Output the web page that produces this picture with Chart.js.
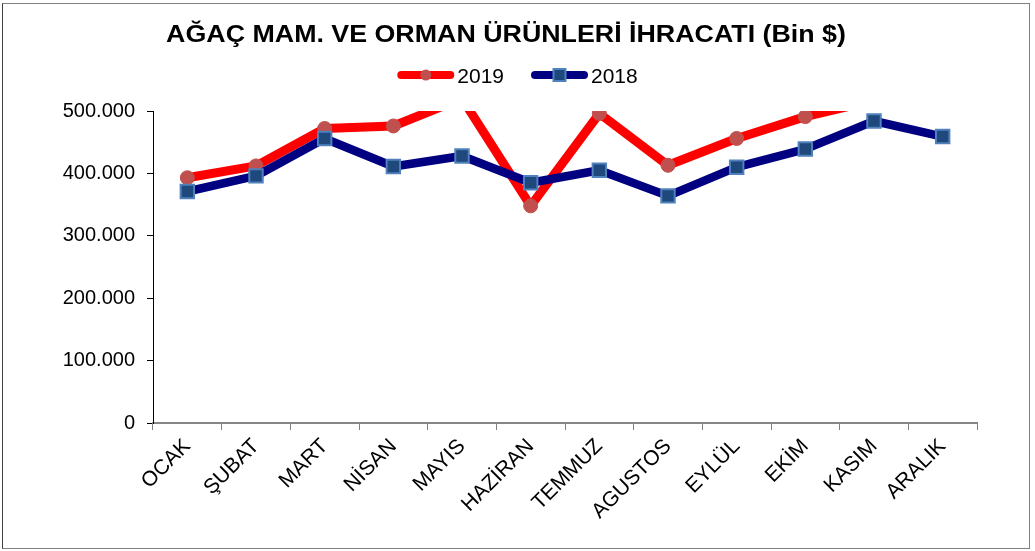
<!DOCTYPE html>
<html>
<head>
<meta charset="utf-8">
<script src="https://cdn.jsdelivr.net/npm/chart.js@4.4.1/dist/chart.umd.min.js"></script>
<style>
  html, body { margin: 0; padding: 0; background: #ffffff; }
  #wrap { position: relative; width: 1035px; height: 551px; overflow: hidden; }
  #frame { position: absolute; left: 2px; top: 3px; width: 1026px; height: 544px;
           border: 1px solid #808080; border-left-color: #404040; pointer-events: none; }
  canvas { position: absolute; left: 0; top: 0; }
</style>
</head>
<body>
<div id="wrap">
  <canvas id="c" width="1035" height="551"></canvas>
  <div id="frame"></div>
</div>
<script>
const titleText = 'AĞAÇ MAM. VE ORMAN ÜRÜNLERİ İHRACATI (Bin $)';
const categories = ['OCAK', 'ŞUBAT', 'MART', 'NİSAN', 'MAYIS', 'HAZİRAN', 'TEMMUZ', 'AGUSTOS', 'EYLÜL', 'EKİM', 'KASIM', 'ARALIK'];
const seriesNames = ['2019', '2018'];
const values2019 = [393000, 412000, 472000, 476000, 520000, 348000, 496000, 413000, 456000, 491000, 517000, null];
const values2018 = [371000, 396000, 456000, 411000, 428000, 385000, 405000, 364000, 410000, 439000, 484000, 459000];
const yTickValues = [0, 100000, 200000, 300000, 400000, 500000];

function fmtThousands(v) {
  return String(Math.round(v)).replace(/\B(?=(\d{3})+(?!\d))/g, '.');
}

const FONT = '"Liberation Sans", Arial, sans-serif';

const headerPlugin = {
  id: 'header',
  afterDraw(chart) {
    const ctx = chart.ctx;
    ctx.save();
    ctx.fillStyle = '#000000';
    ctx.font = 'bold 23px ' + FONT;
    ctx.textAlign = 'center';
    ctx.textBaseline = 'alphabetic';
    ctx.save();
    ctx.translate(506, 42);
    ctx.scale(1.165, 1);
    ctx.fillText(titleText, 0, 0);
    ctx.restore();

    const sx = 1.05;
    ctx.font = '20px ' + FONT;
    const lineLen = 57, gapText = 3, gapItem = 27;
    const items = chart.data.datasets.map(ds => ({
      ds, w: lineLen + gapText + ctx.measureText(ds.label).width * sx
    }));
    const total = items.reduce((a, it) => a + it.w, 0) + gapItem * (items.length - 1);
    let x = 517.5 - total / 2;
    const yc = 75;
    items.forEach(it => {
      const ds = it.ds;
      ctx.strokeStyle = ds.borderColor;
      ctx.lineWidth = 8;
      ctx.lineCap = 'round';
      ctx.beginPath();
      ctx.moveTo(x + 4, yc);
      ctx.lineTo(x + lineLen - 4, yc);
      ctx.stroke();
      const mx = x + lineLen / 2;
      if (ds.pointStyle === 'circle') {
        ctx.fillStyle = ds.pointBackgroundColor;
        ctx.beginPath();
        ctx.arc(mx, yc, 5.5, 0, Math.PI * 2);
        ctx.fill();
      } else {
        ctx.fillStyle = ds.pointBackgroundColor;
        ctx.fillRect(mx - 6, yc - 6, 12, 12);
        ctx.strokeStyle = ds.pointBorderColor;
        ctx.lineWidth = 2;
        ctx.strokeRect(mx - 6, yc - 6, 12, 12);
      }
      ctx.fillStyle = '#000000';
      ctx.textAlign = 'left';
      ctx.save();
      ctx.translate(x + lineLen + gapText, 83);
      ctx.scale(sx, 1);
      ctx.fillText(ds.label, 0, 0);
      ctx.restore();
      x += it.w + gapItem;
    });
    ctx.restore();
  }
};

new Chart(document.getElementById('c'), {
  type: 'line',
  data: {
    labels: categories,
    datasets: [
      {
        label: seriesNames[0],
        data: values2019,
        borderColor: '#FF0000',
        borderWidth: 9,
        borderJoinStyle: 'round',
        borderCapStyle: 'round',
        pointStyle: 'circle',
        pointRadius: 7,
        pointBackgroundColor: '#C0504D',
        pointBorderColor: '#C0504D',
        pointBorderWidth: 1,
        tension: 0,
        order: 1,
        clip: { left: 20, right: 20, top: 0, bottom: 20 }
      },
      {
        label: seriesNames[1],
        data: values2018,
        borderColor: '#000080',
        borderWidth: 8.5,
        borderJoinStyle: 'round',
        borderCapStyle: 'round',
        pointStyle: 'rect',
        pointRadius: 9.5,
        pointBackgroundColor: '#1F497D',
        pointBorderColor: '#4F81BD',
        pointBorderWidth: 2,
        tension: 0,
        order: 0,
        clip: { left: 20, right: 20, top: 0, bottom: 20 }
      }
    ]
  },
  options: {
    responsive: false,
    animation: false,
    devicePixelRatio: 1,
    layout: { padding: { top: 111, right: 58, bottom: 0, left: 0 } },
    plugins: {
      legend: { display: false },
      title: { display: false },
      tooltip: { enabled: false }
    },
    scales: {
      x: {
        type: 'category',
        offset: true,
        afterFit(scale) { scale.height = 128; },
        grid: {
          offset: true,
          drawOnChartArea: false,
          drawTicks: true,
          tickLength: 7,
          color: '#808080',
          lineWidth: 1
        },
        border: { display: true, color: '#868686', width: 2 },
        ticks: {
          autoSkip: false,
          maxRotation: 45,
          minRotation: 45,
          padding: 4,
          color: '#000000',
          font: { family: FONT, size: 21 }
        }
      },
      y: {
        min: 0,
        max: 500000,
        afterFit(scale) { scale.width = 153; },
        afterBuildTicks(scale) { scale.ticks = yTickValues.map(v => ({ value: v })); },
        grid: {
          drawOnChartArea: false,
          drawTicks: true,
          tickLength: 6,
          color: '#000000',
          lineWidth: 1
        },
        border: { display: true, color: '#000000', width: 1 },
        ticks: {
          padding: 12,
          color: '#000000',
          font: { family: FONT, size: 20 },
          callback: (v) => fmtThousands(v)
        }
      }
    }
  },
  plugins: [headerPlugin]
});
</script>
</body>
</html>
